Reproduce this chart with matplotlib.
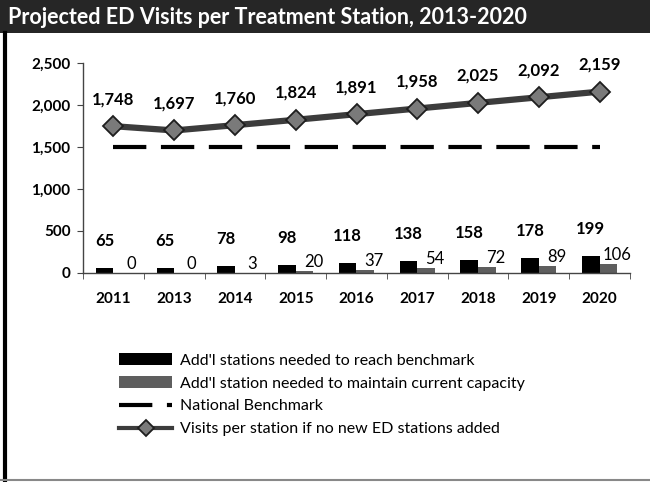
import numpy as np
import matplotlib.pyplot as plt
from matplotlib.patches import Rectangle
from matplotlib.lines import Line2D

plt.rcParams['font.family'] = ['Lato', 'DejaVu Sans']

# datos
years = ['2011', '2013', '2014', '2015', '2016', '2017', '2018', '2019', '2020']
reach_benchmark = [65, 65, 78, 98, 118, 138, 158, 178, 199]
maintain_capacity = [0, 0, 3, 20, 37, 54, 72, 89, 106]
visits_per_station = [1748, 1697, 1760, 1824, 1891, 1958, 2025, 2092, 2159]
national_benchmark = [1500] * len(years)
yticks = [0, 500, 1000, 1500, 2000, 2500]

x = np.arange(len(years))
w = 0.29

fig = plt.figure(figsize=(6.5, 4.82), dpi=100)
ax = fig.add_axes([83/650, 1 - 273/482, 547/650, 210/482])

b1 = ax.bar(x - w/2, reach_benchmark, w, color='black',
            label="Add'l stations needed to reach benchmark")
b2 = ax.bar(x + w/2, maintain_capacity, w, color='#5e5e5e',
            label="Add'l station needed to maintain current capacity")
ax.plot(x, national_benchmark, color='black', lw=3, dashes=(8, 3.5),
        label='National Benchmark')
visits_line, = ax.plot(x, visits_per_station, color='#3c3c3c', lw=4.5, marker='D', ms=10,
                       mfc='#7a7a7a', mec='#1e1e1e', mew=1.3,
                       label='Visits per station if no new ED stations added')

# etiquetas de valores
for xi, v in zip(x, visits_per_station):
    ax.annotate(f'{v:,}', (xi, v), xytext=(0, 19), textcoords='offset pixels',
                ha='center', va='bottom', fontsize=12, fontweight='bold')
for xi, v in zip(x, reach_benchmark):
    ax.annotate(f'{v}', (xi - w/2, v), xytext=(0, 19), textcoords='offset pixels',
                ha='center', va='bottom', fontsize=12, fontweight='bold')
for xi, v in zip(x, maintain_capacity):
    ax.annotate(f'{v}', (xi + w, v), xytext=(0, 1), textcoords='offset pixels',
                ha='center', va='bottom', fontsize=12)

ax.set_xlim(-0.5, len(years) - 0.5)
ax.set_ylim(0, 2500)
ax.set_yticks(yticks)
ax.set_yticklabels([f'{t:,}' for t in yticks], fontsize=11, fontweight='bold')
ax.set_xticks(x)
ax.set_xticklabels(years, fontsize=11, fontweight='bold')
ax.set_xticks(np.arange(len(years) + 1) - 0.5, minor=True)
ax.tick_params(axis='x', which='major', length=0, pad=14)
ax.tick_params(axis='x', which='minor', length=4, color='#444444', direction='out')
ax.tick_params(axis='y', length=4, color='#444444', pad=5)
for s in ['top', 'right']:
    ax.spines[s].set_visible(False)
for s in ['left', 'bottom']:
    ax.spines[s].set_color('#444444')
    ax.spines[s].set_linewidth(1)

# barra de título
fig.patches.append(Rectangle((0, 1 - 33/482), 1, 33/482, transform=fig.transFigure,
                             facecolor='#262626', edgecolor='none', zorder=0))
fig.text(8/650, 1 - 17/482, 'Projected ED Visits per Treatment Station, 2013-2020',
         color='white', fontsize=15.5, fontweight='bold', va='center', ha='left')

# marco
fig.add_artist(Line2D([5/650, 5/650], [0, 1 - 33/482], transform=fig.transFigure,
                      color='black', lw=3))
fig.add_artist(Line2D([0, 1], [2/482, 2/482], transform=fig.transFigure,
                      color='#888888', lw=1.5))

leg = fig.legend(handles=[b1, b2, ax.lines[0], visits_line], loc='upper left',
                 bbox_to_anchor=(113/650, 1 - 347/482), frameon=False, fontsize=11.5,
                 handlelength=3.3, handletextpad=0.5, labelspacing=0.55,
                 borderaxespad=0, markerscale=0.8)
for h in leg.legend_handles[3:]:
    h.set_linewidth(3)

fig.savefig('out.png', dpi=100)
